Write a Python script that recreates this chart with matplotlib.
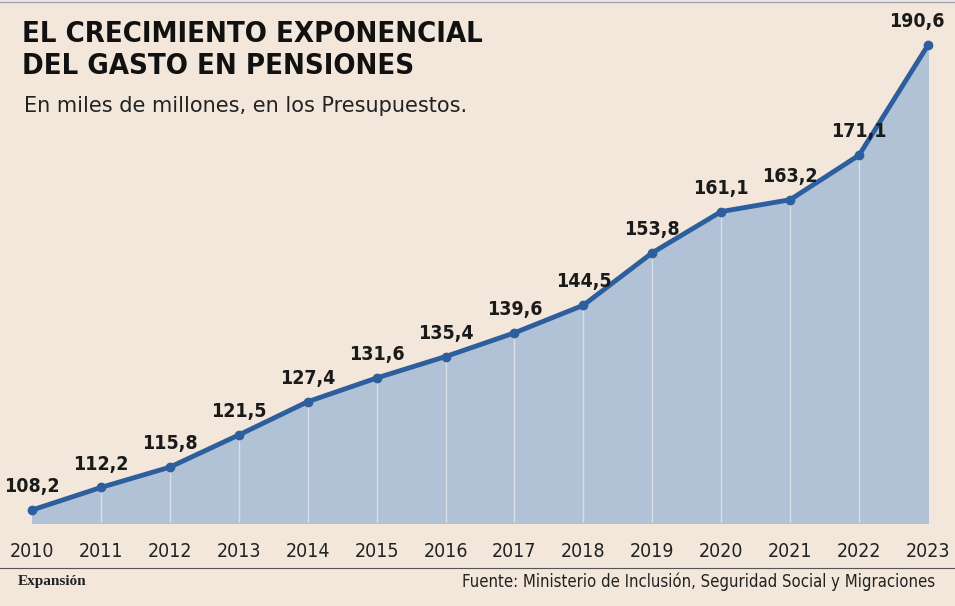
import matplotlib.pyplot as plt

years = list(range(2010, 2024))
values = [108.2, 112.2, 115.8, 121.5, 127.4, 131.6, 135.4, 139.6, 144.5, 153.8, 161.1, 163.2, 171.1, 190.6]
labels = [f"{v:.1f}".replace(".", ",") for v in values]

bg = "#f2e7da"
plt.rcParams['font.family'] = ['DejaVu Sans']
plt.rcParams['font.stretch'] = 'condensed'

fig = plt.figure(figsize=(9.55, 6.06), dpi=100, facecolor=bg)
ax = fig.add_axes([32 / 955, 1 - 523 / 606, 896 / 955, 523 / 606])
ax.set_facecolor("none")
ax.set_xlim(2010, 2023)
ax.set_ylim(105.9, 198.6)
ax.fill_between(years, values, 105.9, color="#b1c2d7", zorder=1)
ax.vlines(years[1:-1], 105.9, values[1:-1], color="#d8dde6", lw=1, zorder=2)
ax.plot(years, values, color="#2d5e9e", lw=3.5, marker="o", ms=6, zorder=3, clip_on=False)
for x, v, s in zip(years, values, labels):
    ha = "right" if x == years[-1] else "center"
    dx = 12 if x == years[-1] else 0
    ax.annotate(s, (x, v), xytext=(dx, 10), textcoords="offset points", ha=ha,
                va="bottom", fontsize=14, fontweight="bold", color="#1a1a1a", annotation_clip=False)
for sp in ax.spines.values():
    sp.set_visible(False)
ax.set_yticks([])
ax.set_xticks(years)
ax.set_xticklabels([str(y) for y in years], fontsize=14, color="#222222")
ax.tick_params(axis="x", length=0, pad=14)

fig.text(22 / 955, 1 - 50 / 606, "EL CRECIMIENTO EXPONENCIAL\nDEL GASTO EN PENSIONES", fontsize=21,
         fontweight="bold", va="center", ha="left", color="#111111", linespacing=1.15)
fig.text(24 / 955, 1 - 106 / 606, "En miles de millones, en los Presupuestos.", fontsize=15,
         va="center", ha="left", color="#222222", fontstretch="normal")
fig.text(18 / 955, 1 - 582 / 606, "Expansión", fontsize=11, fontweight="bold", va="center",
         family=["Liberation Serif", "DejaVu Serif"], color="#222222")
fig.text(935 / 955, 1 - 582 / 606, "Fuente: Ministerio de Inclusión, Seguridad Social y Migraciones",
         fontsize=12, ha="right", va="center", color="#222222")
fig.add_artist(plt.Line2D([0, 1], [1 - 2 / 606] * 2, color="#9aa8bd", lw=1))
fig.add_artist(plt.Line2D([0, 1], [1 - 568 / 606] * 2, color="#555555", lw=0.8))

fig.savefig("out.png", dpi=100, facecolor=bg)
